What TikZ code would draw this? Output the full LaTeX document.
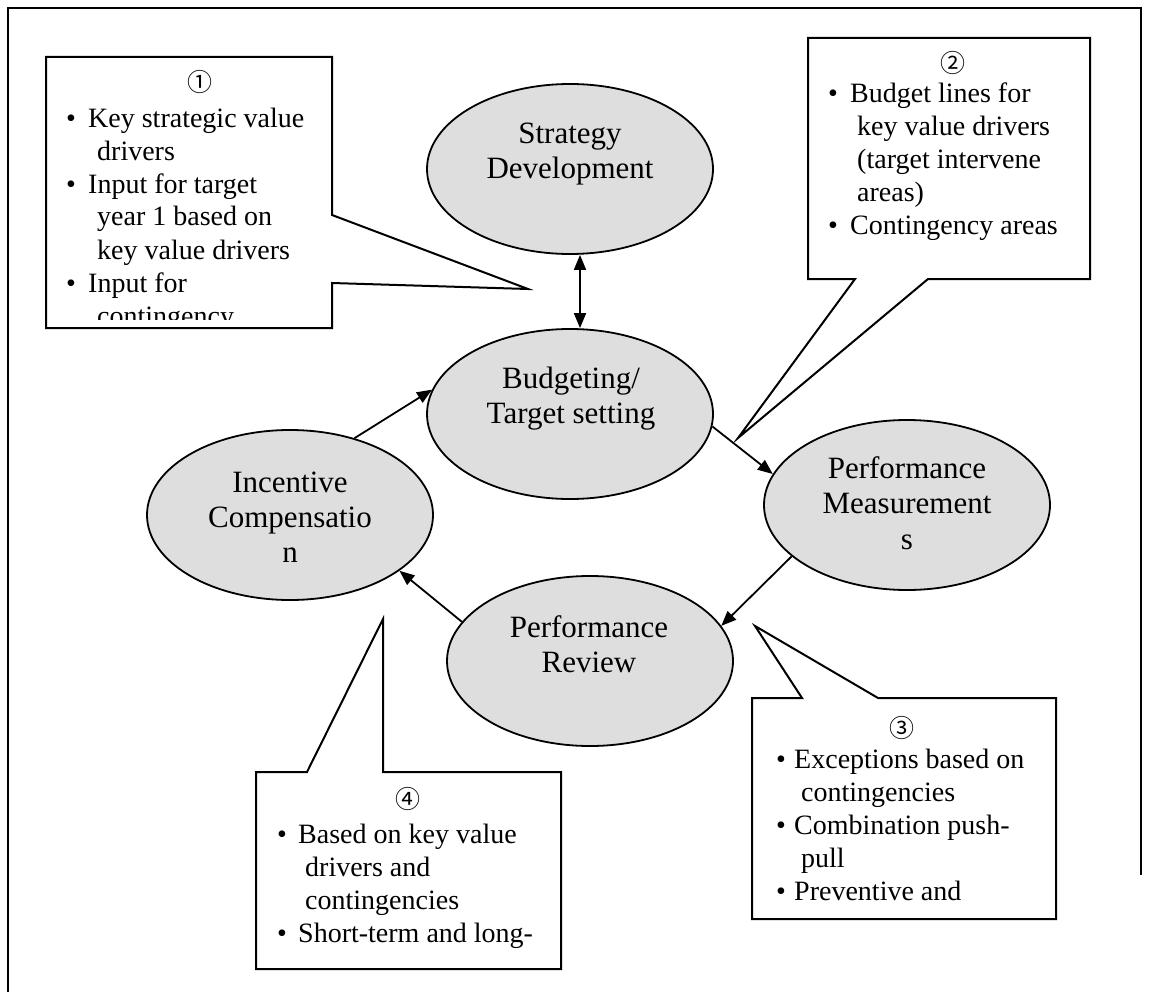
\documentclass[tikz,border=0pt]{standalone}
\usepackage{fontspec}
\setmainfont{Liberation Serif}
\newfontfamily\circfont{Noto Sans CJK KR}
\usetikzlibrary{arrows.meta,shapes.geometric}
\begin{document}
\begin{tikzpicture}[x=1pt,y=-1pt,
  ell/.style={draw, ellipse, line width=1.8pt, fill=black!13, minimum width=286pt, minimum height=170pt, inner sep=0pt},
  et/.style={font=\fontsize{31}{36}\selectfont, anchor=base, inner sep=0pt},
  ct/.style={font=\fontsize{28}{33}\selectfont, anchor=base west, inner sep=0pt},
  bl/.style={font=\fontsize{28}{33}\selectfont, anchor=base, inner sep=0pt},
  cn/.style={font=\circfont\fontsize{25}{28}\selectfont, inner sep=0pt},
  arr/.style={line width=1.8pt, -{Triangle[length=15pt,width=12pt]}},
  darr/.style={line width=1.8pt, {Triangle[length=15pt,width=12pt]}-{Triangle[length=15pt,width=12pt]}},
  co/.style={draw, line width=2pt, fill=white, line join=miter},
  frame/.style={line width=2pt}]
\useasboundingbox (0,0) rectangle (1153,992);
\draw[frame] (8,1000) -- (8,8) -- (1141,8) -- (1141,875);

% ellipses
\node[ell] (sd) at (570,169) {};
\node[ell] (bt) at (570,414) {};
\node[ell] (ic) at (290,515) {};
\node[ell] (pm) at (907,505) {};
\node[ell] (pr) at (590,661) {};

\node[et] (sd1) at (570,144) {Strategy};
\node[et] (sd2) at (570,179) {Development};
\node[et] (bt1) at (571,388) {Budgeting/};
\node[et] (bt2) at (571,423) {Target setting};
\node[et] (ic1) at (290,492) {Incentive};
\node[et] (ic2) at (290,527) {Compensatio};
\node[et] (ic3) at (290,562) {n};
\node[et] (pm1) at (907,478) {Performance};
\node[et] (pm2) at (907,513) {Measurement};
\node[et] (pm3) at (907,549) {s};
\node[et] (pr1) at (589,637) {Performance};
\node[et] (pr2) at (589,672) {Review};

% connectors
\draw[darr] ([xshift=10pt]sd.south) -- ([xshift=10pt]bt.north);
\draw[arr] (ic.50) -- (bt.170);
\draw[arr] (bt.-5) -- (pm.167);
\draw[arr] (pm.204) -- (pr.15);
\draw[arr] (pr.163) -- (ic.-27);

% callout 1
\draw[co] (46,57) -- (332,57) -- (332,215) -- (528,289) -- (332,283) -- (332,328) -- (46,328) -- cycle;
\begin{scope}
\clip (46,57) rectangle (332,319);
\node[cn] (n1) at (200,82) {①};
\node[bl] (b11) at (71,128) {\textbullet};
\node[ct] (t11) at (88,128) {Key strategic value};
\node[ct] (t12) at (97,161) {drivers};
\node[bl] (b12) at (71,194) {\textbullet};
\node[ct] (t13) at (88,194) {Input for target};
\node[ct] (t14) at (97,226) {year 1 based on};
\node[ct] (t15) at (97,259) {key value drivers};
\node[bl] (b13) at (71,292) {\textbullet};
\node[ct] (t16) at (88,292) {Input for};
\node[ct] (t17) at (97,325) {contingency};
\end{scope}

% callout 2
\draw[co] (808,38) -- (1090,38) -- (1090,279) -- (928,279) -- (738,438) -- (855,279) -- (808,279) -- cycle;
\node[cn] (n2) at (953,63) {②};
\node[bl] (b21) at (833,103) {\textbullet};
\node[ct] (t21) at (850,103) {Budget lines for};
\node[ct] (t22) at (857,136) {key value drivers};
\node[ct] (t23) at (857,169) {(target intervene};
\node[ct] (t24) at (857,202) {areas)};
\node[bl] (b22) at (833,235) {\textbullet};
\node[ct] (t25) at (850,235) {Contingency areas};

% callout 3
\draw[co] (752,698) -- (802,698) -- (755,626) -- (878,698) -- (1056,698) -- (1056,919) -- (752,919) -- cycle;
\begin{scope}
\clip (752,698) rectangle (1056,909);
\node[cn] (n3) at (902,728) {③};
\node[bl] (b31) at (781,768) {\textbullet};
\node[ct] (t31) at (794,768) {Exceptions based on};
\node[ct] (t32) at (801,801) {contingencies};
\node[bl] (b32) at (781,834) {\textbullet};
\node[ct] (t33) at (794,834) {Combination push-};
\node[ct] (t34) at (801,867) {pull};
\node[bl] (b33) at (781,900) {\textbullet};
\node[ct] (t35) at (794,900) {Preventive and};
\end{scope}

% callout 4
\draw[co] (256,772) -- (307,772) -- (383,619) -- (383,772) -- (561,772) -- (561,969) -- (256,969) -- cycle;
\begin{scope}
\clip (256,772) rectangle (561,960);
\node[cn] (n4) at (408,799) {④};
\node[bl] (b41) at (282,843) {\textbullet};
\node[ct] (t41) at (298,843) {Based on key value};
\node[ct] (t42) at (305,876) {drivers and};
\node[ct] (t43) at (305,909) {contingencies};
\node[bl] (b42) at (282,942) {\textbullet};
\node[ct] (t44) at (298,942) {Short-term and long-};
\end{scope}
\end{tikzpicture}
\end{document}
